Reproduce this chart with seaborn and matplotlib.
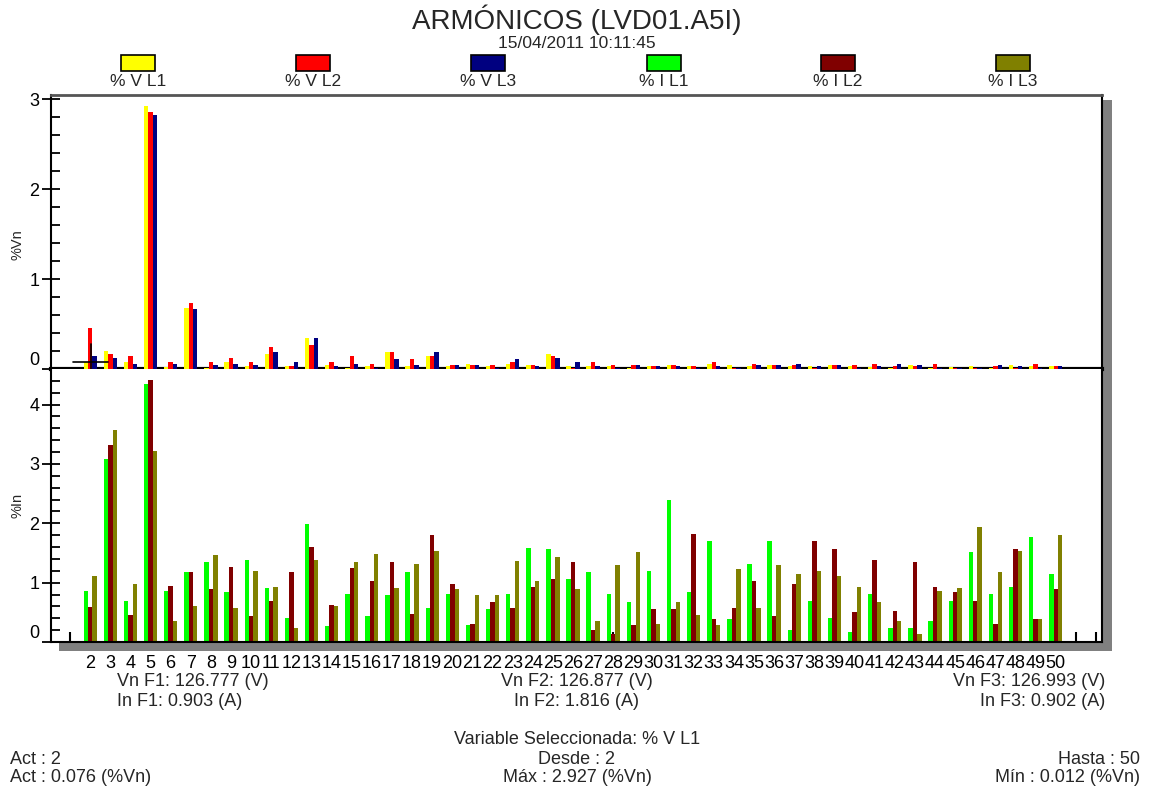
import numpy as np
import pandas as pd
import seaborn as sns
import matplotlib
matplotlib.use("Agg")
import matplotlib.pyplot as plt
from matplotlib.patches import Rectangle

#### Datos ####
armonicos = list(range(2, 51))

# % de la tension nominal por fase
v_l1 = [0.076, 0.20, 0.075, 2.927, 0.02, 0.68, 0.012, 0.075, 0.03, 0.17,
        0.03, 0.35, 0.045, 0.012, 0.03, 0.19, 0.03, 0.14, 0.03, 0.06,
        0.03, 0.06, 0.045, 0.17, 0.03, 0.03, 0.03, 0.012, 0.03, 0.045,
        0.03, 0.06, 0.045, 0.03, 0.045, 0.03, 0.03, 0.045, 0.03, 0.02,
        0.012, 0.045, 0.012, 0.02, 0.03, 0.012, 0.045, 0.03, 0.03]
v_l2 = [0.46, 0.17, 0.14, 2.86, 0.075, 0.73, 0.075, 0.12, 0.075, 0.25,
        0.03, 0.27, 0.075, 0.14, 0.06, 0.19, 0.11, 0.14, 0.045, 0.045,
        0.045, 0.075, 0.045, 0.14, 0.012, 0.075, 0.045, 0.045, 0.03, 0.045,
        0.03, 0.075, 0.012, 0.06, 0.045, 0.045, 0.012, 0.045, 0.045, 0.06,
        0.03, 0.03, 0.06, 0.012, 0.012, 0.03, 0.012, 0.06, 0.03]
v_l3 = [0.15, 0.12, 0.06, 2.83, 0.06, 0.67, 0.045, 0.06, 0.045, 0.19,
        0.075, 0.35, 0.03, 0.06, 0.012, 0.11, 0.045, 0.19, 0.045, 0.045,
        0.015, 0.11, 0.03, 0.12, 0.075, 0.03, 0.012, 0.045, 0.03, 0.03,
        0.012, 0.03, 0.012, 0.045, 0.045, 0.06, 0.03, 0.045, 0.012, 0.03,
        0.06, 0.045, 0.012, 0.012, 0.012, 0.045, 0.03, 0.012, 0.03]

# % de la corriente nominal por fase
i_l1 = [0.86, 3.08, 0.69, 4.35, 0.86, 1.18, 1.34, 0.84, 1.39, 0.91,
        0.41, 1.99, 0.27, 0.81, 0.43, 0.79, 1.18, 0.58, 0.81,
        0.29, 0.55, 0.81, 1.58, 1.56, 1.06, 1.18, 0.81, 0.67, 1.20,
        2.40, 0.84, 1.70, 0.38, 1.32, 1.70, 0.21, 0.69, 0.41, 0.17,
        0.81, 0.24, 0.24, 0.36, 0.69, 1.51, 0.81, 0.93, 1.77, 1.15]
i_l2 = [0.59, 3.32, 0.45, 4.42, 0.95, 1.18, 0.89, 1.27, 0.43, 0.69,
        1.18, 1.60, 0.62, 1.25, 1.03, 1.34, 0.48, 1.80, 0.98,
        0.31, 0.67, 0.58, 0.93, 1.06, 1.34, 0.21, 0.14, 0.29, 0.55,
        0.55, 1.82, 0.38, 0.58, 1.03, 0.43, 0.98, 1.70, 1.56, 0.50,
        1.39, 0.53, 1.34, 0.93, 0.84, 0.69, 0.31, 1.56, 0.38, 0.89]
i_l3 = [1.12, 3.58, 0.98, 3.22, 0.36, 0.60, 1.46, 0.58, 1.20, 0.93,
        0.24, 1.39, 0.60, 1.34, 1.49, 0.91, 1.32, 1.53, 0.89,
        0.79, 0.79, 1.37, 1.03, 1.44, 0.89, 0.36, 1.29, 1.51, 0.31,
        0.67, 0.45, 0.29, 1.23, 0.58, 1.29, 1.15, 1.20, 1.12, 0.93,
        0.67, 0.36, 0.14, 0.86, 0.91, 1.94, 1.18, 1.53, 0.38, 1.80]

series_v = ['% V L1', '% V L2', '% V L3']
series_i = ['% I L1', '% I L2', '% I L3']
colores_v = ['#FFFF00', '#FF0000', '#000080']
colores_i = ['#00FF00', '#800000', '#808000']

cursor_armonico = 2
cursor_valor = 0.076

textos_fase = [('Vn F1: 126.777 (V)', 'In F1: 0.903 (A)'),
               ('Vn F2: 126.877 (V)', 'In F2: 1.816 (A)'),
               ('Vn F3: 126.993 (V)', 'In F3: 0.902 (A)')]

#### Estilo ####
sns.set_style("white")
plt.rcParams['font.family'] = ['Liberation Sans', 'DejaVu Sans']

W, H = 1152, 791
fig = plt.figure(figsize=(W / 100, H / 100), dpi=100)


def fx(x):
    return x / W


def fy(y):
    return 1 - y / H


def tabla_larga(valores, nombres):
    frames = []
    for vals, nombre in zip(valores, nombres):
        frames.append(pd.DataFrame({'armonico': armonicos, 'valor': vals, 'serie': nombre}))
    return pd.concat(frames, ignore_index=True)


df_v = tabla_larga([v_l1, v_l2, v_l3], series_v)
df_i = tabla_larga([i_l1, i_l2, i_l3], series_i)

# sombra gris del marco
fig.add_artist(Rectangle((fx(1103), fy(651)), fx(9), (651 - 100) / H, transform=fig.transFigure,
                         facecolor='#808080', edgecolor='none', zorder=0))
fig.add_artist(Rectangle((fx(59), fy(651)), fx(1053), 9 / H, transform=fig.transFigure,
                         facecolor='#808080', edgecolor='none', zorder=0))

ax_v = fig.add_axes([fx(51), fy(369), fx(1051), (369 - 95) / H])
ax_i = fig.add_axes([fx(51), fy(642), fx(1051), (642 - 369) / H])

sns.barplot(data=df_v, x='armonico', y='valor', hue='serie', hue_order=series_v,
            palette=colores_v, native_scale=True, width=0.66, saturation=1,
            errorbar=None, linewidth=0, edgecolor='none', legend=False, ax=ax_v)
sns.barplot(data=df_i, x='armonico', y='valor', hue='serie', hue_order=series_i,
            palette=colores_i, native_scale=True, width=0.66, saturation=1,
            errorbar=None, linewidth=0, edgecolor='none', legend=False, ax=ax_i)

# cursor sobre la variable seleccionada
ax_v.plot([cursor_armonico - 0.85, cursor_armonico + 0.9], [cursor_valor, cursor_valor],
          color='black', lw=1.2, zorder=5)
ax_v.plot([cursor_armonico + 0.05, cursor_armonico + 0.05], [0, 0.28],
          color='black', lw=1.2, zorder=5)

for ax in (ax_v, ax_i):
    ax.set_xlim(0.05, 52.3)
    ax.set_xlabel('')
    ax.set_ylabel('')
    ax.set_facecolor('white')
    ax.spines['left'].set_color('black')
    ax.spines['left'].set_linewidth(1.5)
    ax.spines['right'].set_color('black')
    ax.spines['right'].set_linewidth(1.5)
    ax.tick_params(axis='y', which='major', direction='inout', length=13, width=1.3,
                   labelsize=13, colors='black', pad=2)
    ax.tick_params(axis='y', which='minor', direction='in', length=6.5, width=1.3, color='black')
    ax.yaxis.set_ticks_position('left')

# panel de tensiones
ax_v.set_ylim(0, 3.05)
ax_v.set_yticks([0, 1, 2, 3], ['0', '1', '2', '3'])
ax_v.set_yticks(np.arange(0, 3.01, 0.2), minor=True)
ax_v.set_xticks([])
ax_v.spines['top'].set_color('#555555')
ax_v.spines['top'].set_linewidth(2)
ax_v.spines['bottom'].set_color('black')
ax_v.spines['bottom'].set_linewidth(3)
ax_v.spines['bottom'].set_zorder(0.9)

# panel de corrientes
ax_i.set_ylim(0, 4.6)
ax_i.set_yticks([0, 1, 2, 3, 4], ['0', '1', '2', '3', '4'])
ax_i.set_yticks(np.arange(0, 4.51, 0.2), minor=True)
ax_i.spines['top'].set_visible(False)
ax_i.spines['bottom'].set_color('black')
ax_i.spines['bottom'].set_linewidth(1.5)
posiciones = list(range(1, 53))
etiquetas = [str(p) if p in armonicos else '' for p in posiciones]
ax_i.set_xticks(posiciones, etiquetas)
ax_i.tick_params(axis='x', direction='in', length=7, width=1.5, colors='black',
                 labelsize=13, pad=9, bottom=True)

for ax in (ax_v, ax_i):
    for lbl in ax.get_yticklabels():
        if lbl.get_text() == '0':
            lbl.set_va('bottom')

# etiquetas de eje
fig.text(fx(18), fy(245), '%Vn', rotation=90, ha='center', va='center', fontsize=10.5)
fig.text(fx(18), fy(505), '%In', rotation=90, ha='center', va='center', fontsize=10.5)

# titulo
fig.text(fx(577), fy(20), 'ARMÓNICOS (LVD01.A5I)', ha='center', va='center', fontsize=20)
fig.text(fx(577), fy(43), '15/04/2011 10:11:45', ha='center', va='center', fontsize=12.5)

# leyenda
centros = [138, 313, 488, 664, 838, 1013]
for cx, nombre, color in zip(centros, series_v + series_i, colores_v + colores_i):
    fig.add_artist(Rectangle((fx(cx - 17), fy(71)), fx(34), 16 / H, transform=fig.transFigure,
                             facecolor=color, edgecolor='black', linewidth=1.2))
    fig.text(fx(cx), fy(82), nombre, ha='center', va='center', fontsize=12.5)

# datos de fase
fig.text(fx(117), fy(681), textos_fase[0][0], ha='left', va='center', fontsize=13)
fig.text(fx(117), fy(701), textos_fase[0][1], ha='left', va='center', fontsize=13)
fig.text(fx(577), fy(681), textos_fase[1][0], ha='center', va='center', fontsize=13)
fig.text(fx(577), fy(701), textos_fase[1][1], ha='center', va='center', fontsize=13)
fig.text(fx(1105), fy(681), textos_fase[2][0], ha='right', va='center', fontsize=13)
fig.text(fx(1105), fy(701), textos_fase[2][1], ha='right', va='center', fontsize=13)

# pie
fig.text(fx(577), fy(740), 'Variable Seleccionada: % V L1', ha='center', va='center', fontsize=13)
fig.text(fx(10), fy(759), 'Act : 2', ha='left', va='center', fontsize=13)
fig.text(fx(577), fy(759), 'Desde : 2', ha='center', va='center', fontsize=13)
fig.text(fx(1140), fy(759), 'Hasta : 50', ha='right', va='center', fontsize=13)
fig.text(fx(10), fy(777), 'Act : 0.076 (%Vn)', ha='left', va='center', fontsize=13)
fig.text(fx(577), fy(777), 'Máx : 2.927 (%Vn)', ha='center', va='center', fontsize=13)
fig.text(fx(1140), fy(777), 'Mín : 0.012 (%Vn)', ha='right', va='center', fontsize=13)

fig.savefig('out.png', dpi=100, facecolor='white')
